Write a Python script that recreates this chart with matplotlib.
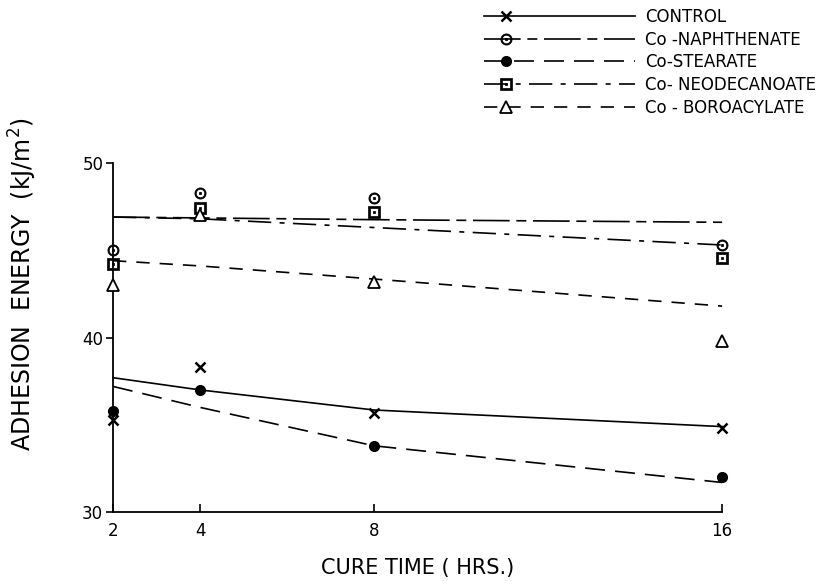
import matplotlib
matplotlib.use('Agg')
import matplotlib.pyplot as plt
from matplotlib.legend_handler import HandlerLine2D
from matplotlib.lines import Line2D
import numpy as np

# cure time (hrs)
cure_time = [2, 4, 8, 16]

# measured adhesion energy (kJ/m2)
control = [35.3, 38.3, 35.7, 34.8]
naphthenate = [45.0, 48.3, 48.0, 45.3]
stearate = [35.8, 37.0, 33.8, 32.0]
neodecanoate = [44.2, 47.4, 47.2, 44.55]
boroacylate = [43.0, 47.0, 43.2, 39.8]

# drawn trend lines
control_fit = [37.7, 37.0, 35.85, 34.9]
naphthenate_fit = [46.9, 46.85, 46.75, 46.6]
stearate_fit = [37.2, 36.0, 33.8, 31.7]
neodecanoate_fit = [46.9, 46.8, 46.3, 45.3]
boroacylate_fit = [44.4, 44.1, 43.35, 41.8]

labels = ['CONTROL', 'Co -NAPHTHENATE', 'Co-STEARATE', 'Co- NEODECANOATE', 'Co - BOROACYLATE']


class MarkerLeft(HandlerLine2D):
    # legend line with its marker near the left end
    def create_artists(self, legend, orig_handle, xdescent, ydescent,
                       width, height, fontsize, trans):
        y = (height - ydescent) / 2
        xs = [-xdescent, -xdescent + 0.15 * width, -xdescent + width]
        line = Line2D(xs, [y, y, y])
        self.update_prop(line, orig_handle, legend)
        line.set_markevery([1])
        line.set_transform(trans)
        return [line]


fig = plt.figure(figsize=(8.31, 5.86), dpi=100)
ax = fig.add_axes([0.136, 0.126, 0.733, 0.596])

series = [
    (control, control_fit, dict(marker='x', ms=7, mew=1.8, mfc='black'), '-'),
    (naphthenate, naphthenate_fit, dict(marker='$\\odot$', ms=8, mew=0.6, mfc='black'), (0, (22, 4, 6, 4))),
    (stearate, stearate_fit, dict(marker='o', ms=7, mfc='black'), (0, (12, 6))),
    (neodecanoate, neodecanoate_fit, dict(marker='$\\boxdot$', ms=8, mew=0.5, mfc='black'), (0, (14, 5, 3, 5))),
    (boroacylate, boroacylate_fit, dict(marker='^', ms=8, mew=1.3, mfc='white'), (0, (8, 6))),
]

handles = []
for vals, fit, mk, ls in series:
    ax.plot(cure_time, fit, color='black', lw=1.2, ls=ls, clip_on=False)
    ax.plot(cure_time, vals, ls='none', color='black', mec='black', clip_on=False, zorder=5, **mk)
    h, = ax.plot([], [], color='black', lw=1.2, ls=ls, mec='black', **mk)
    handles.append(h)

ax.set_xlim(2, 16)
ax.set_ylim(30, 50)
ax.set_xticks(cure_time)
ax.set_yticks([30, 40, 50])
ax.spines['top'].set_visible(False)
ax.spines['right'].set_visible(False)
ax.spines['left'].set_linewidth(1.3)
ax.spines['bottom'].set_linewidth(1.3)
ax.tick_params(axis='x', direction='in', length=6, width=1.2, labelsize=12, pad=7)
ax.tick_params(axis='y', direction='out', length=5, width=1.2, labelsize=12, pad=2)

ax.set_xlabel('CURE TIME ( HRS.)', fontsize=15, labelpad=13)
fig.text(0.027, 0.515, 'ADHESION  ENERGY  (kJ/m$^2$)', rotation=90, fontsize=17,
         ha='center', va='center')

fig.legend(handles, labels, loc='upper left', bbox_to_anchor=(0.564, 1.012),
           frameon=False, handlelength=9.1, handletextpad=0.6, labelspacing=0.28,
           fontsize=12, handler_map={h: MarkerLeft() for h in handles})

fig.savefig('out.png', dpi=100)
